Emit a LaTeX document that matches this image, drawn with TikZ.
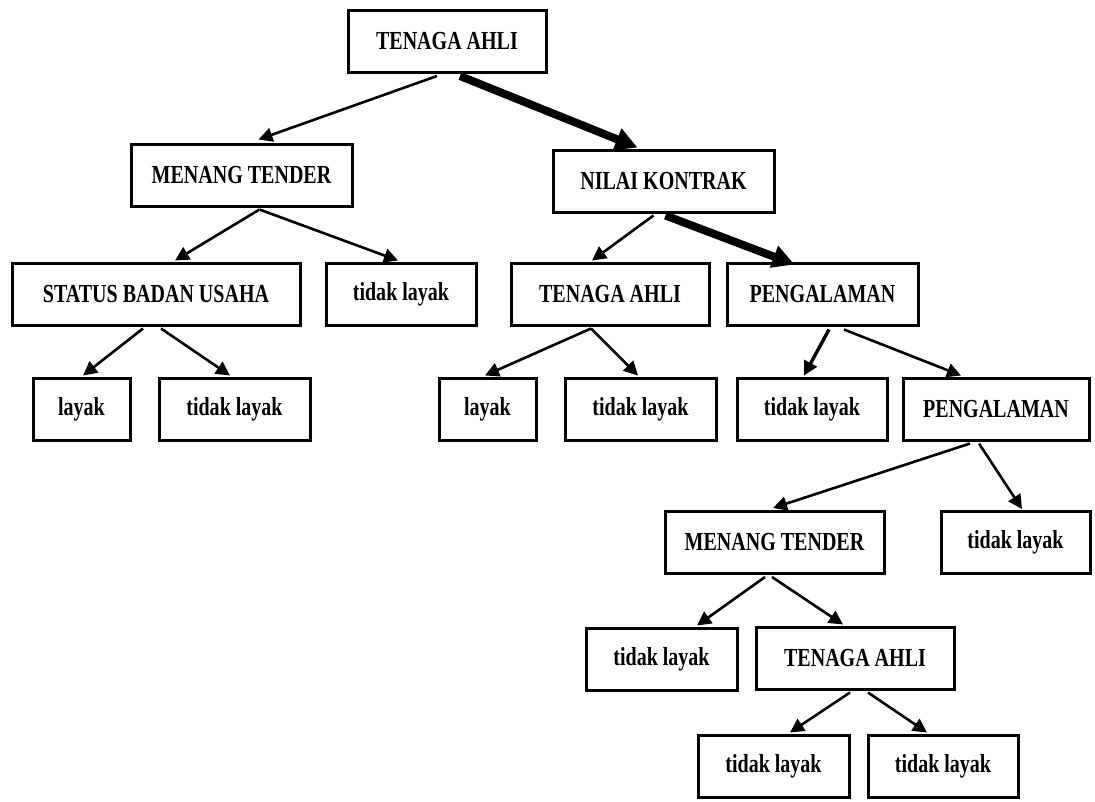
\documentclass[tikz,border=0pt]{standalone}
\usepackage{fontspec}
\setmainfont{Liberation Serif}[FakeStretch=0.77]
\usetikzlibrary{arrows.meta}
\begin{document}
\begin{tikzpicture}[x=1pt,y=-1pt,
  box/.style={draw=black,line width=3pt,fill=white,inner sep=0pt,minimum height=62pt,
    font=\fontsize{26}{30}\selectfont\bfseries},
  arr/.style={line width=2.6pt,-{Triangle[length=14pt,width=14pt]}},
  thickarr/.style={line width=8pt,-{Triangle[length=22pt,width=22pt]}}]
\useasboundingbox (0,0) rectangle (1095,801);
\node[box,minimum width=198pt] (t1) at (447,41.5) {TENAGA AHLI};
\node[box,minimum width=221pt] (m1) at (241.5,175) {MENANG TENDER};
\node[box,minimum width=221pt] (n1) at (663.5,181) {NILAI KONTRAK};
\node[box,minimum width=288pt] (s1) at (156,294) {STATUS BADAN USAHA};
\node[box,minimum width=150pt] (tl1) at (401,294) {tidak layak};
\node[box,minimum width=198pt] (t2) at (610,294) {TENAGA AHLI};
\node[box,minimum width=191pt] (p1) at (822.5,294) {PENGALAMAN};
\node[box,minimum width=97pt] (l1) at (81.5,409) {layak};
\node[box,minimum width=151pt] (tl2) at (234.5,409) {tidak layak};
\node[box,minimum width=97pt] (l2) at (487.5,409) {layak};
\node[box,minimum width=151pt] (tl3) at (640.5,409) {tidak layak};
\node[box,minimum width=150pt] (tl4) at (812,409) {tidak layak};
\node[box,minimum width=186pt] (p2) at (996,409) {PENGALAMAN};
\node[box,minimum width=219pt] (m2) at (774.5,542.5) {MENANG TENDER};
\node[box,minimum width=149pt] (tl5) at (1015.5,542.5) {tidak layak};
\node[box,minimum width=151pt] (tl6) at (661.5,659) {tidak layak};
\node[box,minimum width=198pt] (t3) at (855,658) {TENAGA AHLI};
\node[box,minimum width=151pt] (tl7) at (773.5,766) {tidak layak};
\node[box,minimum width=150pt] (tl8) at (943,766) {tidak layak};
% connectors
\draw[arr] ([xshift=-10pt,yshift=-2pt]t1.south) -- ([xshift=17pt,yshift=3pt]m1.north);
\draw[thickarr] ([xshift=13pt,yshift=-2pt]t1.south) -- ([xshift=-26pt,yshift=1pt]n1.north);
\draw[arr] ([xshift=18pt,yshift=-2pt]m1.south) -- ([xshift=19pt,yshift=1pt]s1.north);
\draw[arr] ([xshift=18pt,yshift=-2pt]m1.south) -- ([xshift=-3pt,yshift=1pt]tl1.north);
\draw[arr] ([xshift=-13pt,yshift=-2pt]s1.south) -- ([xshift=1.5pt,yshift=1pt]l1.north);
\draw[arr] ([xshift=5pt,yshift=-2pt]s1.south) -- ([xshift=-4.5pt,yshift=1pt]tl2.north);
\draw[arr] ([xshift=-10pt,yshift=-2pt]n1.south) -- ([xshift=-18pt,yshift=1pt]t2.north);
\draw[thickarr] ([xshift=2pt,yshift=-2pt]n1.south) -- ([xshift=-28pt,yshift=-3pt]p1.north);
\draw[arr] ([xshift=-19pt,yshift=-2pt]t2.south) -- ([xshift=-2.5pt,yshift=1pt]l2.north);
\draw[arr] ([xshift=-19pt,yshift=-2pt]t2.south) -- ([xshift=-2.5pt,yshift=1pt]tl3.north);
\draw[arr,line width=3.4pt] ([xshift=6.5pt,yshift=-3pt]p1.south) -- ([xshift=-8pt,yshift=1pt]tl4.north);
\draw[arr] ([xshift=21.5pt,yshift=-3pt]p1.south) -- ([xshift=-35pt,yshift=1pt]p2.north);
\draw[arr] ([xshift=-26pt,yshift=-2pt]p2.south) -- ([xshift=-1.5pt,yshift=2pt]m2.north);
\draw[arr] ([xshift=-17pt,yshift=-2pt]p2.south) -- ([xshift=6.5pt,yshift=1pt]tl5.north);
\draw[arr] ([xshift=-9.5pt,yshift=-2pt]m2.south) -- ([xshift=35.5pt,yshift=1pt]tl6.north);
\draw[arr] ([xshift=-2.5pt,yshift=-2pt]m2.south) -- ([xshift=-12pt,yshift=1pt]t3.north);
\draw[arr] ([xshift=-5pt,yshift=-2pt]t3.south) -- ([xshift=16.5pt,yshift=1pt]tl7.north);
\draw[arr] ([xshift=13pt,yshift=-2pt]t3.south) -- ([xshift=-16pt,yshift=1pt]tl8.north);
\end{tikzpicture}
\end{document}
